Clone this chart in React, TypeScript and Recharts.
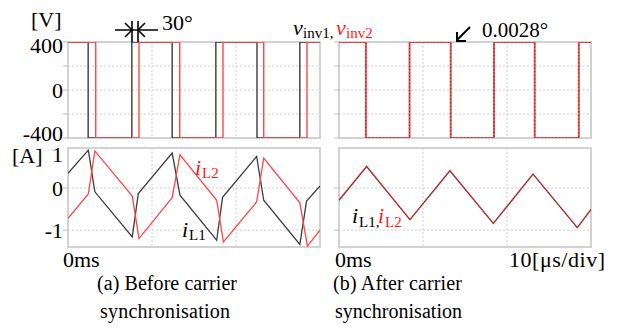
import React from 'react'
import { LineChart, Line, XAxis, YAxis, CartesianGrid, ReferenceArea } from 'recharts'

const FONT = '"Liberation Serif", "Times New Roman", serif'

const timeTicks = [0, 10, 20, 30]
const voltTicks = [-400, -200, 0, 200, 400]
const voltLabels = [400, 0, -400]
const currTicks = [-1, 0]
const currLabels = [0, -1]

// (a) before carrier synchronisation, time in us (10 us/div)
const tVinv1A = [0, 2.4, 2.4, 7.6, 7.6, 12.4, 12.4, 17.6, 17.6, 22.5, 22.5, 27.6, 27.6, 30]
const vinv1A = [400, 400, -400, -400, 400, 400, -400, -400, 400, 400, -400, -400, 400, 400]
const tVinv2A = [0, 3.3, 3.3, 8.45, 8.45, 13.3, 13.3, 18.45, 18.45, 23.3, 23.3, 28.45, 28.45, 30]
const vinv2A = [400, 400, -400, -400, 400, 400, -400, -400, 400, 400, -400, -400, 400, 400]

const tIL1A = [0, 2.42, 3.2, 7.65, 8.37, 12.4, 13.33, 17.7, 18.4, 22.46, 23.3, 27.6, 28.4, 30]
const iL1A = [0.35, 0.9, -0.09, -1.16, -0.13, 0.83, -0.17, -1.24, -0.22, 0.75, -0.29, -1.34, -0.31, 0.05]
const tIL2A = [0, 2.42, 3.2, 7.65, 8.45, 12.4, 13.33, 17.7, 18.5, 22.46, 23.3, 27.6, 28.5, 30]
const iL2A = [-0.72, -0.14, 0.88, -0.19, -1.2, -0.23, 0.79, -0.29, -1.28, -0.33, 0.71, -0.35, -1.38, -1.0]

// (b) after carrier synchronisation
const tVinvB = [0, 3.2, 3.2, 8.4, 8.4, 13.3, 13.3, 18.45, 18.45, 23.3, 23.3, 28.55, 28.55, 30]
const vinv1B = [400, 400, -400, -400, 400, 400, -400, -400, 400, 400, -400, -400, 400, 400]
const vinv2B = [400, 400, -400, -400, 400, 400, -400, -400, 400, 400, -400, -400, 400, 400]
const tILB = [0, 3.29, 8.45, 13.2, 18.37, 23.1, 28.37, 30]
const iL1B = [-0.29, 0.51, -0.75, 0.41, -0.84, 0.33, -0.94, -0.51]
const iL2B = [-0.29, 0.51, -0.75, 0.41, -0.84, 0.33, -0.94, -0.51]

const zip = (t: number[], v: number[]) => t.map((x, i) => ({ t: x, v: v[i] }))

type Series = { data: { t: number; v: number }[]; color: string; width: number; dash?: string }

// end labels sit a little inside the plot, like the scope export
const labelShift: Record<number, number> = { 400: 3, [-400]: -5 }

const makeTick = (labels: number[]) => (props: any) => {
  const { x, y, payload } = props
  if (!labels.includes(payload.value)) return <g />
  return (
    <text x={x} y={y + (labelShift[payload.value] || 0)} dy="0.35em" textAnchor="end" fontSize={22} fontFamily={FONT} fill="#000">
      {payload.value}
    </text>
  )
}

function Panel(props: {
  left: number
  top: number
  height: number
  mTop: number
  mBottom: number
  domain: [number, number]
  ticks: number[]
  labels: number[]
  series: Series[]
}) {
  const { left, top, height, mTop, mBottom, domain, ticks, labels, series } = props
  return (
    <div style={{ position: 'absolute', left, top }}>
      <LineChart width={322} height={height} margin={{ top: mTop, right: 2, bottom: mBottom, left: 0 }}>
        <CartesianGrid stroke="#cfcfcf" strokeDasharray="2 2" />
        <ReferenceArea x1={0} x2={30} y1={domain[0]} y2={domain[1]} fill="none" stroke="#d2d2d2" strokeWidth={2} ifOverflow="visible" />
        <XAxis dataKey="t" type="number" domain={[0, 30]} ticks={timeTicks} hide allowDataOverflow />
        <YAxis
          type="number"
          domain={domain}
          ticks={ticks}
          interval={0}
          allowDataOverflow
          width={68}
          tickSize={5}
          tickMargin={0}
          axisLine={false}
          tickLine={{ stroke: '#bbbbbb' }}
          tick={makeTick(labels)}
        />
        {series.map((s, i) => (
          <Line
            key={i}
            data={s.data}
            dataKey="v"
            type="linear"
            stroke={s.color}
            strokeWidth={s.width}
            strokeDasharray={s.dash}
            dot={false}
            activeDot={false}
            isAnimationActive={false}
          />
        ))}
      </LineChart>
    </div>
  )
}

const BLACK = '#3c3c3c'
const RED = '#ff4646'

export default function App() {
  const txt = { fontFamily: FONT, fill: '#000' }
  return (
    <div style={{ position: 'absolute', left: 0, top: 0, width: 619, height: 331, background: '#fff', overflow: 'hidden' }}>
      <Panel
        left={0}
        top={0}
        height={150}
        mTop={42}
        mBottom={12}
        domain={[-400, 400]}
        ticks={voltTicks}
        labels={voltLabels}
        series={[
          { data: zip(tVinv1A, vinv1A), color: BLACK, width: 1.4 },
          { data: zip(tVinv2A, vinv2A), color: RED, width: 1.4 },
        ]}
      />
      <Panel
        left={271}
        top={0}
        height={150}
        mTop={42}
        mBottom={12}
        domain={[-400, 400]}
        ticks={voltTicks}
        labels={[]}
        series={[
          { data: zip(tVinvB, vinv2B), color: '#e85252', width: 2 },
          { data: zip(tVinvB, vinv1B), color: '#6a1a1a', width: 1, dash: '1 2.5' },
        ]}
      />
      <Panel
        left={0}
        top={140}
        height={120}
        mTop={8}
        mBottom={13}
        domain={[-1.4, 0.95]}
        ticks={currTicks}
        labels={currLabels}
        series={[
          { data: zip(tIL1A, iL1A), color: BLACK, width: 1.3 },
          { data: zip(tIL2A, iL2A), color: RED, width: 1.3 },
        ]}
      />
      <Panel
        left={271}
        top={140}
        height={120}
        mTop={8}
        mBottom={13}
        domain={[-1.4, 0.95]}
        ticks={currTicks}
        labels={[]}
        series={[
          { data: zip(tILB, iL2B), color: '#c03a3a', width: 1.5 },
          { data: zip(tILB, iL1B), color: '#5a1a1a', width: 0.8, dash: '1 1.5' },
        ]}
      />
      <svg width={619} height={331} style={{ position: 'absolute', left: 0, top: 0, pointerEvents: 'none' }}>
        <text x={31} y={27} fontSize={22} {...txt}>[V]</text>
        {/* 30 degree phase marker */}
        <g stroke="#000" strokeWidth={1.6} fill="none">
          <line x1={115} y1={30} x2={158} y2={30} />
          <line x1={132} y1={21} x2={132} y2={42} />
          <line x1={138} y1={21} x2={138} y2={42} />
          <polyline points="125,23 132,30 125,37" />
          <polyline points="145,23 138,30 145,37" />
        </g>
        <text x={162} y={30} fontSize={22} {...txt}>30°</text>
        <text x={293} y={35} fontSize={22} fontStyle="italic" {...txt}>v</text>
        <text x={303} y={38} fontSize={15} {...txt}>inv1,</text>
        <text x={336} y={35} fontSize={22} fontStyle="italic" fontFamily={FONT} fill="#ff1a1a">v</text>
        <text x={346} y={38} fontSize={15} fontFamily={FONT} fill="#ff1a1a">inv2</text>
        {/* arrow to 0.0028 degree */}
        <g stroke="#000" strokeWidth={2} fill="none">
          <line x1={470} y1={27} x2={457} y2={40} />
          <polyline points="457,32 457,41 466,41" />
        </g>
        <text x={482} y={37} fontSize={21} {...txt}>0.0028°</text>

        <text x={12} y={163} fontSize={22} {...txt}>[A]</text>
        <text x={63} y={162} fontSize={22} textAnchor="end" {...txt}>1</text>
        <text x={195} y={175} fontSize={22} fontStyle="italic" fontFamily={FONT} fill="#ff1a1a">i</text>
        <text x={202} y={178} fontSize={15} fontFamily={FONT} fill="#ff1a1a">L2</text>
        <text x={182} y={237} fontSize={22} fontStyle="italic" {...txt}>i</text>
        <text x={189} y={240} fontSize={15} {...txt}>L1</text>
        <text x={352} y={223} fontSize={22} fontStyle="italic" {...txt}>i</text>
        <text x={359} y={227} fontSize={15} {...txt}>L1,</text>
        <text x={378} y={223} fontSize={22} fontStyle="italic" fontFamily={FONT} fill="#ff1a1a">i</text>
        <text x={385} y={227} fontSize={15} fontFamily={FONT} fill="#ff1a1a">L2</text>

        <text x={63} y={267} fontSize={22} {...txt}>0ms</text>
        <text x={335} y={267} fontSize={22} {...txt}>0ms</text>
        <text x={509} y={267} fontSize={22} textLength={96} {...txt}>10[μs/div]</text>

        <text x={97} y={290} fontSize={20} textLength={140} {...txt}>(a) Before carrier</text>
        <text x={100} y={318} fontSize={20} textLength={130} {...txt}>synchronisation</text>
        <text x={333} y={290} fontSize={20} textLength={129} {...txt}>(b) After carrier</text>
        <text x={335} y={318} fontSize={20} textLength={127} {...txt}>synchronisation</text>
      </svg>
    </div>
  )
}
